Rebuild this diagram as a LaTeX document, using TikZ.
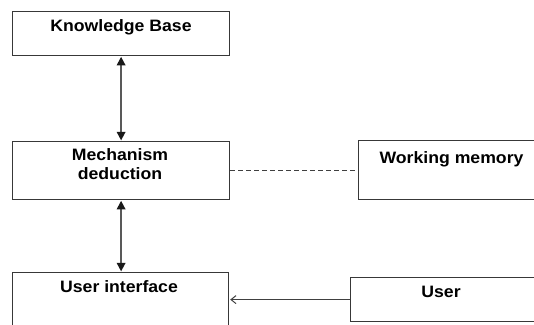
\documentclass[tikz,border=0pt]{standalone}
\usepackage{fontspec}
\newfontfamily\labfont{Liberation Sans}[FakeStretch=1.07]
\usetikzlibrary{arrows.meta,calc}
\tikzset{
  box/.style={draw=black!78, line width=1.2pt, anchor=north west, inner sep=0pt},
  lab/.style={font=\labfont\bfseries\fontsize{16.5}{18.5}\selectfont, text=black, align=center, anchor=base, inner sep=0pt},
  dbl/.style={draw=black!65, line width=1.6pt, {Triangle[width=8.5pt,length=8.5pt,color=black!90]}-{Triangle[width=8.5pt,length=8.5pt,color=black!90]}, shorten <=0.6pt, shorten >=0.6pt},
  dashline/.style={draw=black!75, line width=1pt, dash pattern=on 5pt off 3pt},
  usr/.style={draw=black!75, line width=1pt, -{Straight Barb[length=5pt,width=8pt,line width=1pt]}, shorten >=1pt}
}
\begin{document}
\begin{tikzpicture}[x=1pt,y=-1pt]
\useasboundingbox (0,0) rectangle (534,324);
\fill[white] (0,0) rectangle (534,324);
\begin{scope}
\clip (0,0) rectangle (534,324);
\node[box, minimum width=217pt, minimum height=44pt] (kb) at (12,11) {};
\node[box, minimum width=217pt, minimum height=58pt] (md) at (12,141) {};
\node[box, minimum width=200pt, minimum height=59pt] (wm) at (358,140) {};
\node[box, minimum width=216pt, minimum height=70pt] (ui) at (12,272) {};
\node[box, minimum width=200pt, minimum height=44pt] (us) at (350,277) {};
\end{scope}
\node[lab] (kbt) at (121,31) {Knowledge Base};
\node[lab, anchor=north] (mdt) at (120,148.5) {Mechanism\\deduction};
\node[lab] (wmt) at (451.5,163.3) {Working memory};
\node[lab] (uit) at (119,292) {User interface};
\node[lab] (ust) at (441,297) {User};
\draw[dbl] (kb.south) -- (md.north);
\draw[dbl] (md.south) -- (md.south |- ui.north);
\draw[dashline] (md.east) -- (md.east -| wm.west);
\draw[usr] (us.west) -- (us.west -| ui.east);
\end{tikzpicture}
\end{document}
